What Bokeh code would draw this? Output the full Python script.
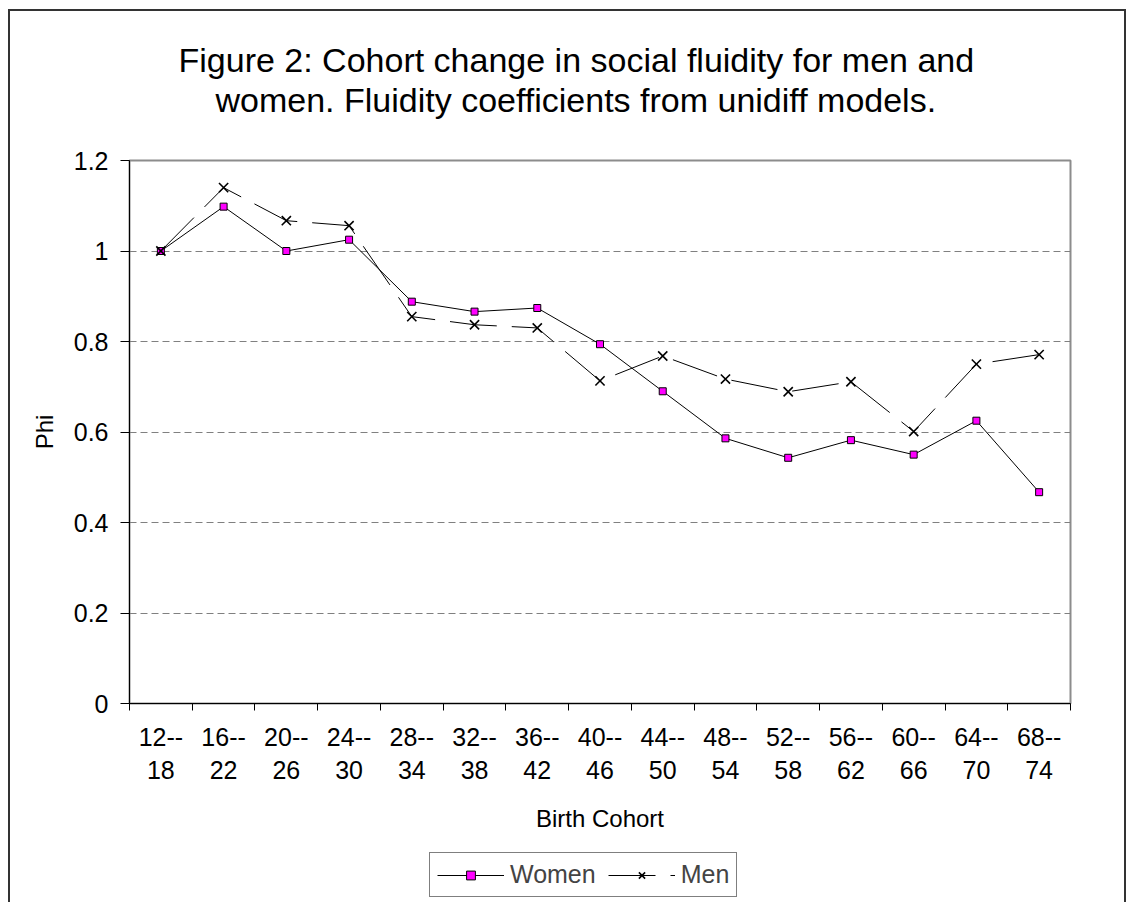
from bokeh.plotting import figure
from bokeh.layouts import column
from bokeh.models import FixedTicker, Legend, LegendItem, Range1d, ColumnDataSource, Title
from bokeh.embed import file_html
from bokeh.resources import INLINE

cohorts = ["12--\n18", "16--\n22", "20--\n26", "24--\n30", "28--\n34", "32--\n38", "36--\n42",
           "40--\n46", "44--\n50", "48--\n54", "52--\n58", "56--\n62", "60--\n66", "64--\n70", "68--\n74"]
women = [1.0, 1.098, 1.0, 1.025, 0.888, 0.866, 0.874, 0.794, 0.690, 0.586, 0.543, 0.582, 0.550, 0.625, 0.467]
men = [1.0, 1.14, 1.067, 1.056, 0.855, 0.837, 0.830, 0.713, 0.768, 0.717, 0.689, 0.711, 0.601, 0.750, 0.771]
y_ticks = [0, 0.2, 0.4, 0.6, 0.8, 1.0, 1.2]
y_tick_labels = ["0", "0.2", "0.4", "0.6", "0.8", "1", "1.2"]
title_lines = ["Figure 2: Cohort change in social fluidity for men and",
               "women. Fluidity coefficients from unidiff models."]

FONT = "Liberation Sans"
n = len(cohorts)
xs = [i + 0.5 for i in range(n)]

p = figure(frame_width=941, frame_height=543, output_backend="svg", toolbar_location=None,
           x_range=Range1d(0, n), y_range=Range1d(0, 1.2), title=None,
           min_border_left=129, min_border_right=58, min_border_top=160, min_border_bottom=142)
p.background_fill_color = "white"
p.border_fill_alpha = 0
p.styles = {"background": (
    "linear-gradient(#333,#333) 8px 9px / 2px 900px no-repeat, "
    "linear-gradient(#333,#333) 8px 9px / 1118px 2px no-repeat, "
    "linear-gradient(#333,#333) 1124px 9px / 2px 900px no-repeat, white")}
p.outline_line_color = "#8c8c8c"
p.outline_line_width = 2

# axes
p.xaxis.ticker = FixedTicker(ticks=xs, minor_ticks=list(range(n + 1)))
p.xaxis.major_label_overrides = {x: c for x, c in zip(xs, cohorts)}
p.xaxis.major_tick_line_color = None
p.xaxis.minor_tick_out = 7
p.xaxis.minor_tick_in = 0
p.xaxis.minor_tick_line_color = "black"
p.xaxis.axis_line_color = "black"
p.xaxis.major_label_text_font = FONT
p.xaxis.major_label_text_font_size = "25px"
p.xaxis.major_label_text_color = "black"
p.xaxis.major_label_standoff = 12
p.xaxis.axis_label = "Birth Cohort"
p.xaxis.axis_label_text_font = FONT
p.xaxis.axis_label_text_font_style = "normal"
p.xaxis.axis_label_text_font_size = "24px"
p.xaxis.axis_label_text_color = "black"
p.xaxis.axis_label_standoff = 18

p.yaxis.ticker = FixedTicker(ticks=y_ticks)
p.yaxis.major_label_overrides = {t: l for t, l in zip(y_ticks, y_tick_labels)}
p.yaxis.major_tick_out = 9
p.yaxis.major_tick_in = 0
p.yaxis.minor_tick_line_color = None
p.yaxis.axis_line_color = "black"
p.yaxis.major_tick_line_color = "black"
p.yaxis.major_label_text_font = FONT
p.yaxis.major_label_text_font_size = "25px"
p.yaxis.major_label_text_color = "black"
p.yaxis.major_label_standoff = 12
p.yaxis.axis_label = "Phi"
p.yaxis.axis_label_text_font = FONT
p.yaxis.axis_label_text_font_style = "normal"
p.yaxis.axis_label_text_font_size = "24px"
p.yaxis.axis_label_text_color = "black"
p.yaxis.axis_label_standoff = 13

p.xgrid.grid_line_color = None
p.ygrid.grid_line_color = "#808080"
p.ygrid.grid_line_dash = "7 4"
p.ygrid.grid_line_width = 1

src = ColumnDataSource(dict(x=xs, women=women, men=men))

w_style = dict(line_color="black", line_width=1)
w_mark = dict(marker="square", size=7, fill_color="#FF00FF", line_color="black", line_width=1)
m_style = dict(line_color="black", line_width=1, line_dash="47 15")
m_mark = dict(marker="x", size=13, line_color="black", line_width=1.6)

p.line("x", "women", source=src, **w_style)
p.scatter("x", "women", source=src, **w_mark)
p.line("x", "men", source=src, **m_style)
p.scatter("x", "men", source=src, **m_mark)

# title lines: first added sits closest to the frame
p.add_layout(Title(text=" ", standoff=2, text_font=FONT, text_font_size="34px"), "above")
p.add_layout(Title(text=title_lines[1], align="left", offset=86, standoff=0,
                   text_font=FONT, text_font_size="34px", text_font_style="normal",
                   text_color="black"), "above")
p.add_layout(Title(text=title_lines[0], align="left", offset=49, standoff=0,
                   text_font=FONT, text_font_size="34px", text_font_style="normal",
                   text_color="black"), "above")

# legend strip below the chart (series drawn out of view, only their legend glyphs show)
lg = figure(width=1128, height=57, output_backend="svg", toolbar_location=None,
            x_range=Range1d(-3, -2), y_range=Range1d(-3, -2), title=None,
            min_border=0, min_border_left=0, min_border_right=0,
            min_border_top=0, min_border_bottom=0)
lg.axis.visible = False
lg.grid.visible = False
lg.outline_line_color = None
lg.background_fill_alpha = 0
lg.border_fill_alpha = 0
lg.styles = {"background": (
    "linear-gradient(#333,#333) 8px 0px / 2px 60px no-repeat, "
    "linear-gradient(#333,#333) 1124px 0px / 2px 60px no-repeat, white")}
lw_line = lg.line("x", "women", source=src, **w_style)
lw_pts = lg.scatter("x", "women", source=src, **w_mark)
lm_line = lg.line("x", "men", source=src, **m_style)
lm_pts = lg.scatter("x", "men", source=src, **m_mark)

legend = Legend(items=[LegendItem(label="Women", renderers=[lw_line, lw_pts]),
                       LegendItem(label="Men", renderers=[lm_line, lm_pts])],
                location=(300, 5), orientation="horizontal",
                border_line_color="black", border_line_width=1,
                label_text_font=FONT, label_text_font_size="25px",
                glyph_width=67, glyph_height=22, padding=7, spacing=12,
                label_standoff=6, margin=0, background_fill_color="white")
lg.add_layout(legend, "center")

layout = column(p, lg, spacing=0)
open("out.html", "w").write(file_html(layout, INLINE))
